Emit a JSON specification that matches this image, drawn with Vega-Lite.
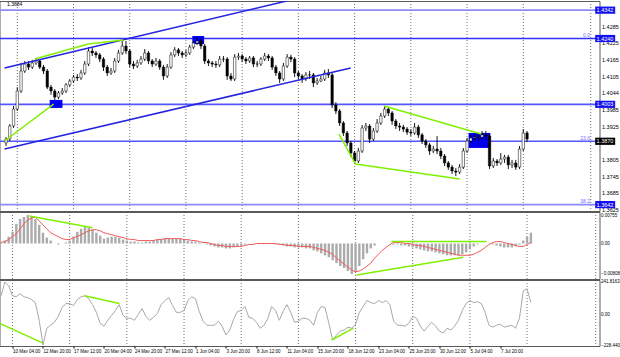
{
"$schema":"https://vega.github.io/schema/vega-lite/v6.json",
"padding":{"left":-2.5,"top":0,"right":0,"bottom":0},"spacing":1,"bounds":"flush","background":"white",
"config":{"view":{"stroke":"#5a5a5a","strokeWidth":1},"axis":{"labelFont":"Liberation Sans","grid":false,"domain":false,"ticks":false},"text":{"font":"Liberation Sans"}},
"datasets":{
"bars":[
{"t":-6,"o":1.3864,"h":1.3885,"l":1.3853,"c":1.3878,"m":0.00026,"s":0.00026,"k":139},
{"t":-4,"o":1.3878,"h":1.3932,"l":1.3871,"c":1.3925,"m":0.00078,"s":0.00052,"k":241.8},
{"t":-2,"o":1.3925,"h":1.3997,"l":1.3918,"c":1.3986,"m":0.00182,"s":0.00104,"k":213},
{"t":0,"o":1.3986,"h":1.4065,"l":1.3979,"c":1.4051,"m":0.00312,"s":0.00182,"k":139},
{"t":2,"o":1.4051,"h":1.4152,"l":1.4044,"c":1.4123,"m":0.0052,"s":0.0026,"k":132},
{"t":4,"o":1.4123,"h":1.4159,"l":1.4116,"c":1.4148,"m":0.0065,"s":0.0039,"k":154},
{"t":6,"o":1.4148,"h":1.4159,"l":1.4127,"c":1.4137,"m":0.00702,"s":0.0052,"k":132},
{"t":8,"o":1.4137,"h":1.4163,"l":1.4130,"c":1.4152,"m":0.00755,"s":0.00624,"k":125},
{"t":10,"o":1.4152,"h":1.4170,"l":1.4145,"c":1.4159,"m":0.00702,"s":0.00676,"k":110},
{"t":12,"o":1.4159,"h":1.4166,"l":1.4130,"c":1.4137,"m":0.0065,"s":0.00702,"k":88},
{"t":14,"o":1.4137,"h":1.4145,"l":1.4112,"c":1.4123,"m":0.00494,"s":0.00598,"k":-44},
{"t":16,"o":1.4123,"h":1.4130,"l":1.4058,"c":1.4065,"m":0.00286,"s":0.00494,"k":-228.4},
{"t":18,"o":1.4065,"h":1.4073,"l":1.4037,"c":1.4051,"m":0.00156,"s":0.0039,"k":-103},
{"t":20,"o":1.4051,"h":1.4058,"l":1.4019,"c":1.4029,"m":0.00078,"s":0.00286,"k":-81},
{"t":22,"o":1.4029,"h":1.4051,"l":1.4022,"c":1.4044,"m":0,"s":0.00234,"k":-59},
{"t":24,"o":1.4044,"h":1.4062,"l":1.4037,"c":1.4051,"m":-0.00026,"s":0.00182,"k":-15},
{"t":26,"o":1.4051,"h":1.4080,"l":1.4044,"c":1.4073,"m":0,"s":0.0013,"k":51},
{"t":28,"o":1.4073,"h":1.4094,"l":1.4065,"c":1.4087,"m":0.00026,"s":0.00104,"k":81},
{"t":30,"o":1.4087,"h":1.4109,"l":1.4080,"c":1.4101,"m":0.00078,"s":0.00104,"k":81},
{"t":32,"o":1.4101,"h":1.4112,"l":1.4087,"c":1.4098,"m":0.00182,"s":0.00156,"k":66},
{"t":34,"o":1.4098,"h":1.4127,"l":1.4091,"c":1.4116,"m":0.00312,"s":0.00182,"k":110},
{"t":36,"o":1.4116,"h":1.4159,"l":1.4109,"c":1.4148,"m":0.0039,"s":0.00234,"k":132},
{"t":38,"o":1.4148,"h":1.4209,"l":1.4141,"c":1.4195,"m":0.00442,"s":0.00286,"k":139},
{"t":40,"o":1.4195,"h":1.4206,"l":1.4177,"c":1.4188,"m":0.00416,"s":0.00338,"k":117},
{"t":42,"o":1.4188,"h":1.4195,"l":1.4170,"c":1.4181,"m":0.00364,"s":0.00364,"k":73},
{"t":44,"o":1.4181,"h":1.4188,"l":1.4155,"c":1.4166,"m":0.00286,"s":0.00364,"k":15},
{"t":46,"o":1.4166,"h":1.4173,"l":1.4123,"c":1.4137,"m":0.00208,"s":0.00338,"k":-66},
{"t":48,"o":1.4137,"h":1.4145,"l":1.4105,"c":1.4116,"m":0.0013,"s":0.00286,"k":-88},
{"t":50,"o":1.4116,"h":1.4134,"l":1.4109,"c":1.4123,"m":0.00156,"s":0.0026,"k":-44},
{"t":52,"o":1.4123,"h":1.4170,"l":1.4116,"c":1.4159,"m":0.00182,"s":0.00234,"k":-7},
{"t":54,"o":1.4159,"h":1.4199,"l":1.4152,"c":1.4188,"m":0.00182,"s":0.00208,"k":29},
{"t":56,"o":1.4188,"h":1.4231,"l":1.4181,"c":1.4213,"m":0.00156,"s":0.00182,"k":73},
{"t":58,"o":1.4213,"h":1.4231,"l":1.4184,"c":1.4195,"m":0.00104,"s":0.00156,"k":-7},
{"t":60,"o":1.4195,"h":1.4202,"l":1.4137,"c":1.4148,"m":0.00078,"s":0.0013,"k":-29},
{"t":62,"o":1.4148,"h":1.4159,"l":1.4130,"c":1.4141,"m":0.00052,"s":0.00104,"k":-29},
{"t":64,"o":1.4141,"h":1.4163,"l":1.4134,"c":1.4152,"m":0.00052,"s":0.00104,"k":-44},
{"t":66,"o":1.4152,"h":1.4177,"l":1.4145,"c":1.4166,"m":0.00026,"s":0.00078,"k":0},
{"t":68,"o":1.4166,"h":1.4202,"l":1.4159,"c":1.4188,"m":0.00026,"s":0.00078,"k":44},
{"t":70,"o":1.4188,"h":1.4195,"l":1.4148,"c":1.4159,"m":0.00052,"s":0.00078,"k":-15},
{"t":72,"o":1.4159,"h":1.4166,"l":1.4137,"c":1.4148,"m":0.00052,"s":0.00078,"k":-44},
{"t":74,"o":1.4148,"h":1.4170,"l":1.4141,"c":1.4159,"m":0.00078,"s":0.00078,"k":-22},
{"t":76,"o":1.4159,"h":1.4166,"l":1.4127,"c":1.4137,"m":0.00104,"s":0.00104,"k":7},
{"t":78,"o":1.4137,"h":1.4145,"l":1.4091,"c":1.4105,"m":0.00104,"s":0.00104,"k":73},
{"t":80,"o":1.4105,"h":1.4148,"l":1.4098,"c":1.4137,"m":0.0013,"s":0.0013,"k":103},
{"t":82,"o":1.4137,"h":1.4191,"l":1.4130,"c":1.4181,"m":0.0013,"s":0.0013,"k":125},
{"t":84,"o":1.4181,"h":1.4209,"l":1.4173,"c":1.4199,"m":0.0013,"s":0.0013,"k":66},
{"t":86,"o":1.4199,"h":1.4206,"l":1.4177,"c":1.4188,"m":0.0013,"s":0.0013,"k":15},
{"t":88,"o":1.4188,"h":1.4195,"l":1.4170,"c":1.4181,"m":0.0013,"s":0.0013,"k":15},
{"t":90,"o":1.4181,"h":1.4199,"l":1.4173,"c":1.4188,"m":0.00104,"s":0.00104,"k":29},
{"t":92,"o":1.4188,"h":1.4217,"l":1.4181,"c":1.4209,"m":0.00078,"s":0.00104,"k":103},
{"t":94,"o":1.4209,"h":1.4231,"l":1.4202,"c":1.4224,"m":0.00052,"s":0.00078,"k":132},
{"t":96,"o":1.4224,"h":1.4245,"l":1.4217,"c":1.4231,"m":0.00052,"s":0.00078,"k":117},
{"t":98,"o":1.4231,"h":1.4238,"l":1.4202,"c":1.4213,"m":0.00026,"s":0.00052,"k":22},
{"t":100,"o":1.4213,"h":1.4220,"l":1.4148,"c":1.4159,"m":0,"s":0.00026,"k":-51},
{"t":102,"o":1.4159,"h":1.4166,"l":1.4141,"c":1.4152,"m":-0.00026,"s":0.00026,"k":-81},
{"t":104,"o":1.4152,"h":1.4159,"l":1.4137,"c":1.4148,"m":-0.00052,"s":0,"k":-81},
{"t":106,"o":1.4148,"h":1.4159,"l":1.4134,"c":1.4145,"m":-0.00078,"s":-0.00026,"k":-81},
{"t":108,"o":1.4145,"h":1.4177,"l":1.4137,"c":1.4166,"m":-0.00104,"s":-0.00052,"k":-51},
{"t":110,"o":1.4166,"h":1.4177,"l":1.4155,"c":1.4166,"m":-0.00104,"s":-0.00052,"k":-88},
{"t":112,"o":1.4166,"h":1.4173,"l":1.4091,"c":1.4105,"m":-0.0013,"s":-0.00078,"k":-154},
{"t":114,"o":1.4105,"h":1.4116,"l":1.4087,"c":1.4094,"m":-0.0013,"s":-0.00078,"k":-117},
{"t":116,"o":1.4094,"h":1.4184,"l":1.4087,"c":1.4173,"m":-0.00104,"s":-0.00078,"k":-37},
{"t":118,"o":1.4173,"h":1.4188,"l":1.4163,"c":1.4177,"m":-0.00078,"s":-0.00078,"k":22},
{"t":120,"o":1.4177,"h":1.4184,"l":1.4155,"c":1.4166,"m":-0.00052,"s":-0.00078,"k":29},
{"t":122,"o":1.4166,"h":1.4173,"l":1.4148,"c":1.4159,"m":-0.00026,"s":-0.00052,"k":59},
{"t":124,"o":1.4159,"h":1.4177,"l":1.4152,"c":1.4170,"m":0,"s":-0.00026,"k":-22},
{"t":126,"o":1.4170,"h":1.4177,"l":1.4137,"c":1.4148,"m":0,"s":-0.00026,"k":-29},
{"t":128,"o":1.4148,"h":1.4159,"l":1.4137,"c":1.4148,"m":0,"s":0,"k":-59},
{"t":130,"o":1.4148,"h":1.4173,"l":1.4141,"c":1.4166,"m":0,"s":0,"k":-103},
{"t":132,"o":1.4166,"h":1.4188,"l":1.4159,"c":1.4177,"m":0,"s":0,"k":-81},
{"t":134,"o":1.4177,"h":1.4184,"l":1.4159,"c":1.4170,"m":0,"s":0,"k":-29},
{"t":136,"o":1.4170,"h":1.4177,"l":1.4127,"c":1.4137,"m":0,"s":0,"k":59},
{"t":138,"o":1.4137,"h":1.4145,"l":1.4105,"c":1.4116,"m":-0.00026,"s":0,"k":29},
{"t":140,"o":1.4116,"h":1.4123,"l":1.4080,"c":1.4094,"m":-0.00026,"s":-0.00026,"k":-44},
{"t":142,"o":1.4094,"h":1.4152,"l":1.4087,"c":1.4141,"m":-0.00052,"s":-0.00026,"k":22},
{"t":144,"o":1.4141,"h":1.4184,"l":1.4134,"c":1.4173,"m":-0.00078,"s":-0.00052,"k":73},
{"t":146,"o":1.4173,"h":1.4181,"l":1.4155,"c":1.4166,"m":-0.00078,"s":-0.00052,"k":15},
{"t":148,"o":1.4166,"h":1.4173,"l":1.4101,"c":1.4116,"m":-0.00104,"s":-0.00052,"k":-59},
{"t":150,"o":1.4116,"h":1.4123,"l":1.4094,"c":1.4105,"m":-0.00104,"s":-0.00078,"k":-51},
{"t":152,"o":1.4105,"h":1.4112,"l":1.4080,"c":1.4094,"m":-0.00104,"s":-0.00078,"k":-29},
{"t":154,"o":1.4094,"h":1.4119,"l":1.4087,"c":1.4109,"m":-0.0013,"s":-0.00078,"k":-29},
{"t":156,"o":1.4109,"h":1.4123,"l":1.4094,"c":1.4109,"m":-0.0013,"s":-0.00078,"k":-44},
{"t":158,"o":1.4109,"h":1.4116,"l":1.4065,"c":1.4080,"m":-0.00182,"s":-0.00104,"k":-81},
{"t":160,"o":1.4080,"h":1.4098,"l":1.4073,"c":1.4087,"m":-0.00208,"s":-0.0013,"k":15},
{"t":162,"o":1.4087,"h":1.4105,"l":1.4083,"c":1.4094,"m":-0.0026,"s":-0.00156,"k":59},
{"t":164,"o":1.4094,"h":1.4127,"l":1.4087,"c":1.4116,"m":-0.00312,"s":-0.00182,"k":51},
{"t":166,"o":1.4116,"h":1.4130,"l":1.4098,"c":1.4109,"m":-0.00364,"s":-0.00234,"k":-66},
{"t":168,"o":1.4109,"h":1.4116,"l":1.3990,"c":1.4001,"m":-0.00442,"s":-0.00286,"k":-191},
{"t":170,"o":1.4001,"h":1.4011,"l":1.3968,"c":1.3979,"m":-0.0052,"s":-0.0039,"k":-154},
{"t":172,"o":1.3979,"h":1.3986,"l":1.3925,"c":1.3936,"m":-0.00598,"s":-0.00468,"k":-125},
{"t":174,"o":1.3936,"h":1.3943,"l":1.3889,"c":1.3900,"m":-0.0065,"s":-0.00546,"k":-117},
{"t":176,"o":1.3900,"h":1.3907,"l":1.3853,"c":1.3864,"m":-0.00728,"s":-0.00624,"k":-95},
{"t":178,"o":1.3864,"h":1.3871,"l":1.3813,"c":1.3828,"m":-0.00808,"s":-0.00702,"k":-103},
{"t":180,"o":1.3828,"h":1.3835,"l":1.3788,"c":1.3799,"m":-0.00754,"s":-0.00754,"k":-73},
{"t":182,"o":1.3799,"h":1.3846,"l":1.3792,"c":1.3835,"m":-0.00598,"s":-0.00728,"k":15},
{"t":184,"o":1.3835,"h":1.3929,"l":1.3828,"c":1.3918,"m":-0.00416,"s":-0.00676,"k":59},
{"t":186,"o":1.3918,"h":1.3936,"l":1.3907,"c":1.3925,"m":-0.0026,"s":-0.00598,"k":103},
{"t":188,"o":1.3925,"h":1.3932,"l":1.3864,"c":1.3878,"m":-0.0013,"s":-0.0052,"k":88},
{"t":190,"o":1.3878,"h":1.3918,"l":1.3871,"c":1.3907,"m":-0.00052,"s":-0.0039,"k":81},
{"t":192,"o":1.3907,"h":1.3950,"l":1.3900,"c":1.3936,"m":0,"s":-0.00286,"k":103},
{"t":194,"o":1.3936,"h":1.3972,"l":1.3929,"c":1.3961,"m":0,"s":-0.00182,"k":88},
{"t":196,"o":1.3961,"h":1.3997,"l":1.3954,"c":1.3986,"m":0,"s":-0.00104,"k":103},
{"t":198,"o":1.3986,"h":1.3993,"l":1.3961,"c":1.3972,"m":0,"s":-0.00026,"k":73},
{"t":200,"o":1.3972,"h":1.3979,"l":1.3929,"c":1.3943,"m":-0.00026,"s":0.00026,"k":-51},
{"t":202,"o":1.3943,"h":1.3950,"l":1.3914,"c":1.3925,"m":-0.00026,"s":0.00026,"k":-81},
{"t":204,"o":1.3925,"h":1.3936,"l":1.3907,"c":1.3921,"m":-0.00052,"s":0.00026,"k":-81},
{"t":206,"o":1.3921,"h":1.3929,"l":1.3903,"c":1.3914,"m":-0.00052,"s":0,"k":-88},
{"t":208,"o":1.3914,"h":1.3921,"l":1.3893,"c":1.3903,"m":-0.00078,"s":0,"k":-66},
{"t":210,"o":1.3903,"h":1.3914,"l":1.3889,"c":1.3900,"m":-0.00104,"s":-0.00026,"k":-15},
{"t":212,"o":1.3900,"h":1.3936,"l":1.3893,"c":1.3921,"m":-0.0013,"s":-0.00052,"k":-29},
{"t":214,"o":1.3921,"h":1.3929,"l":1.3882,"c":1.3893,"m":-0.00156,"s":-0.00052,"k":-88},
{"t":216,"o":1.3893,"h":1.3900,"l":1.3860,"c":1.3871,"m":-0.00182,"s":-0.00078,"k":-125},
{"t":218,"o":1.3871,"h":1.3878,"l":1.3846,"c":1.3857,"m":-0.00208,"s":-0.00104,"k":-88},
{"t":220,"o":1.3857,"h":1.3864,"l":1.3821,"c":1.3835,"m":-0.00208,"s":-0.0013,"k":-59},
{"t":222,"o":1.3835,"h":1.3853,"l":1.3828,"c":1.3842,"m":-0.00234,"s":-0.00156,"k":-88},
{"t":224,"o":1.3842,"h":1.3889,"l":1.3824,"c":1.3835,"m":-0.0026,"s":-0.00182,"k":-125},
{"t":226,"o":1.3835,"h":1.3846,"l":1.3806,"c":1.3817,"m":-0.00286,"s":-0.00208,"k":-139},
{"t":228,"o":1.3817,"h":1.3824,"l":1.3781,"c":1.3792,"m":-0.00312,"s":-0.00234,"k":-103},
{"t":230,"o":1.3792,"h":1.3799,"l":1.3767,"c":1.3777,"m":-0.00312,"s":-0.0026,"k":-117},
{"t":232,"o":1.3777,"h":1.3785,"l":1.3752,"c":1.3763,"m":-0.00312,"s":-0.00286,"k":-88},
{"t":234,"o":1.3763,"h":1.3774,"l":1.3745,"c":1.3759,"m":-0.00312,"s":-0.00312,"k":-44},
{"t":236,"o":1.3759,"h":1.3788,"l":1.3752,"c":1.3777,"m":-0.00286,"s":-0.00312,"k":29},
{"t":238,"o":1.3777,"h":1.3846,"l":1.3770,"c":1.3835,"m":-0.00234,"s":-0.00312,"k":81},
{"t":240,"o":1.3835,"h":1.3882,"l":1.3828,"c":1.3871,"m":-0.00156,"s":-0.00312,"k":103},
{"t":242,"o":1.3871,"h":1.3893,"l":1.3864,"c":1.3882,"m":-0.00078,"s":-0.00286,"k":88},
{"t":244,"o":1.3882,"h":1.3896,"l":1.3871,"c":1.3885,"m":-0.00026,"s":-0.00234,"k":95},
{"t":246,"o":1.3885,"h":1.3900,"l":1.3871,"c":1.3885,"m":0,"s":-0.00182,"k":81},
{"t":248,"o":1.3885,"h":1.3907,"l":1.3875,"c":1.3893,"m":0,"s":-0.00104,"k":15},
{"t":250,"o":1.3893,"h":1.3907,"l":1.3875,"c":1.3889,"m":0,"s":-0.00026,"k":-81},
{"t":252,"o":1.3889,"h":1.3896,"l":1.3770,"c":1.3781,"m":-0.00026,"s":0.00026,"k":-95},
{"t":254,"o":1.3781,"h":1.3810,"l":1.3774,"c":1.3799,"m":-0.00052,"s":0.00052,"k":-81},
{"t":256,"o":1.3799,"h":1.3806,"l":1.3781,"c":1.3792,"m":-0.00078,"s":0.00052,"k":-73},
{"t":258,"o":1.3792,"h":1.3828,"l":1.3785,"c":1.3806,"m":-0.00104,"s":0.00026,"k":-95},
{"t":260,"o":1.3806,"h":1.3821,"l":1.3792,"c":1.3813,"m":-0.00104,"s":0,"k":-88},
{"t":262,"o":1.3813,"h":1.3821,"l":1.3770,"c":1.3785,"m":-0.00104,"s":-0.00026,"k":-81},
{"t":264,"o":1.3785,"h":1.3803,"l":1.3774,"c":1.3792,"m":-0.00078,"s":-0.00052,"k":-103},
{"t":266,"o":1.3792,"h":1.3803,"l":1.3767,"c":1.3777,"m":-0.00026,"s":-0.00078,"k":-29},
{"t":268,"o":1.3777,"h":1.3853,"l":1.3770,"c":1.3842,"m":0.00078,"s":-0.00078,"k":176},
{"t":270,"o":1.3842,"h":1.3914,"l":1.3835,"c":1.3900,"m":0.00182,"s":-0.00026,"k":191},
{"t":272,"o":1.3900,"h":1.3907,"l":1.3867,"c":1.3878,"m":0.00286,"s":0.00026,"k":88}
],
"grid":[{"t":0},{"t":30},{"t":60},{"t":90},{"t":120},{"t":150},{"t":180},{"t":210},{"t":240},{"t":270},{"t":306}],
"lv":[{"p":1.4342,"k":"lt"},{"p":1.4240,"k":"dk"},{"p":1.4003,"k":"md"},{"p":1.3870,"k":"md"},{"p":1.3642,"k":"lt"}],
"fib":[{"p":1.4240,"lab":"0.0"},{"p":1.3870,"lab":"23.6"},{"p":1.3642,"lab":"38.2"}],
"box":[{"p":1.4342,"k":"lvl"},{"p":1.4240,"k":"lvl"},{"p":1.4003,"k":"lvl"},{"p":1.3870,"k":"cur"},{"p":1.3642,"k":"lvl"}],
"rc":[{"t":17.3,"t2":24.1,"p":1.4019,"p2":1.3990},{"t":93.4,"t2":99.7,"p":1.4249,"p2":1.4220},{"t":240.8,"t2":252.4,"p":1.3900,"p2":1.3846}],
"ln":[
{"g":"u","k":"ch","t":-6.82,"p":1.4134},{"g":"u","k":"ch","t":150,"p":1.4385},
{"g":"d","k":"ch","t":-6.82,"p":1.3842},{"g":"d","k":"ch","t":177.9,"p":1.4134},
{"g":"g1","k":"gr","t":-6.82,"p":1.3871},{"g":"g1","k":"gr","t":19.4,"p":1.4004},
{"g":"g2","k":"gr","t":9.4,"p":1.4166},{"g":"g2","k":"gr","t":37.8,"p":1.4220},{"g":"g2","k":"gr","t":56.7,"p":1.4235},
{"g":"g3","k":"gr","t":171.6,"p":1.3896},{"g":"g3","k":"gr","t":180.5,"p":1.3788},{"g":"g3","k":"gr","t":236.1,"p":1.3734},
{"g":"g4","k":"gr","t":195.7,"p":1.3997},{"g":"g4","k":"gr","t":247.6,"p":1.3896}
],
"mg":[{"g":"a","t":8.9,"m":0.00728},{"g":"a","t":42,"m":0.00416},{"g":"b","t":198.8,"m":0.00052},{"g":"b","t":248.7,"m":0.00052},{"g":"c","t":180.5,"m":-0.00832},{"g":"c","t":236.6,"m":-0.00364}],
"cg":[{"g":"a","t":-6.82,"k":-66},{"g":"a","t":15.7,"k":-213},{"g":"b","t":37.8,"k":139},{"g":"b","t":56.1,"k":81},{"g":"c","t":167.4,"k":-191},{"g":"c","t":178.9,"k":-103}],
"tl":[{"lab":"1.3884"}]
},
"vconcat":[
{"width":600,"height":210,
"resolve":{"scale":{"color":"independent"},"axis":{"x":"independent","y":"independent"}},
"layer":[
{"data":{"name":"grid"},"mark":{"type":"rule","color":"#4d4d4d","strokeDash":[1,2],"strokeWidth":0.8},
 "encoding":{"x":{"field":"t","type":"quantitative","scale":{"domain":[-6.82,308],"nice":false,"zero":false},"axis":null}}},
{"data":{"name":"lv"},"mark":{"type":"rule","strokeWidth":1.6},
 "encoding":{"y":{"field":"p","type":"quantitative","title":null,"scale":{"domain":[1.3619,1.4375],"nice":false,"zero":false},
   "axis":{"orient":"right","values":[1.4285,1.4225,1.4165,1.4105,1.4044,1.3985,1.3925,1.3805,1.3745,1.3685,1.3625],"format":".4f","labelFontSize":5.5,"labelColor":"#000","labelPadding":2,"labelOverlap":false,"labelFlush":false,"title":null}},
  "color":{"field":"k","type":"nominal","scale":{"domain":["lt","dk","md"],"range":["#8c8cff","#2f2fff","#5555ff"]},"legend":null}}},
{"data":{"name":"rc"},"mark":{"type":"rect","color":"#0000ee"},
 "encoding":{"x":{"field":"t","type":"quantitative","scale":{"domain":[-6.82,308],"nice":false,"zero":false},"axis":null},"x2":{"field":"t2"},
  "y":{"field":"p","type":"quantitative","scale":{"domain":[1.3619,1.4375],"nice":false,"zero":false},"axis":null},"y2":{"field":"p2"}}},
{"data":{"name":"bars"},"mark":{"type":"rule","color":"#000","strokeWidth":0.9},
 "encoding":{"x":{"field":"t","type":"quantitative","scale":{"domain":[-6.82,308],"nice":false,"zero":false},"axis":null},
  "y":{"field":"l","type":"quantitative","scale":{"domain":[1.3619,1.4375],"nice":false,"zero":false},"axis":null},"y2":{"field":"h"}}},
{"data":{"name":"bars"},"mark":{"type":"bar","width":2.4,"stroke":"#000","strokeWidth":0.5},
 "encoding":{"x":{"field":"t","type":"quantitative","scale":{"domain":[-6.82,308],"nice":false,"zero":false},"axis":null},
  "y":{"field":"o","type":"quantitative","scale":{"domain":[1.3619,1.4375],"nice":false,"zero":false},"axis":null},"y2":{"field":"c"},
  "fill":{"condition":{"test":"datum.c < datum.o","value":"#000"},"value":"#fff"}}},
{"data":{"name":"ln"},"mark":{"type":"line","strokeWidth":1.5,"clip":true},
 "encoding":{"x":{"field":"t","type":"quantitative","scale":{"domain":[-6.82,308],"nice":false,"zero":false},"axis":null},
  "y":{"field":"p","type":"quantitative","scale":{"domain":[1.3619,1.4375],"nice":false,"zero":false},"axis":null},
  "detail":{"field":"g"},
  "color":{"field":"k","type":"nominal","scale":{"domain":["ch","gr"],"range":["#2424e0","#80f000"]},"legend":null}}},
{"data":{"name":"fib"},"mark":{"type":"text","align":"right","baseline":"bottom","fontSize":5,"color":"#6f6fff","dy":-0.5},
 "encoding":{"x":{"datum":305.6,"type":"quantitative","scale":{"domain":[-6.82,308],"nice":false,"zero":false},"axis":null},
  "y":{"field":"p","type":"quantitative","scale":{"domain":[1.3619,1.4375],"nice":false,"zero":false},"axis":null},
  "text":{"field":"lab"}}},
{"data":{"name":"box"},"mark":{"type":"point","shape":"M-1,-0.36L1,-0.36L1,0.36L-1,0.36Z","filled":true,"size":400,"opacity":1,"clip":false},
 "encoding":{"x":{"datum":313.7,"type":"quantitative","scale":{"domain":[-6.82,308],"nice":false,"zero":false},"axis":null},
  "y":{"field":"p","type":"quantitative","scale":{"domain":[1.3619,1.4375],"nice":false,"zero":false},"axis":null},
  "color":{"field":"k","type":"nominal","scale":{"domain":["lvl","cur"],"range":["#1212f0","#000000"]},"legend":null}}},
{"data":{"name":"box"},"mark":{"type":"text","align":"left","baseline":"middle","fontSize":5.5,"color":"#fff","clip":false},
 "encoding":{"x":{"datum":309.1,"type":"quantitative","scale":{"domain":[-6.82,308],"nice":false,"zero":false},"axis":null},
  "y":{"field":"p","type":"quantitative","scale":{"domain":[1.3619,1.4375],"nice":false,"zero":false},"axis":null},
  "text":{"field":"p","type":"quantitative","format":".4f"}}},
{"data":{"name":"tl"},"mark":{"type":"text","align":"left","baseline":"middle","fontSize":5,"color":"#000"},
 "encoding":{"x":{"datum":-5.5,"type":"quantitative","scale":{"domain":[-6.82,308],"nice":false,"zero":false},"axis":null},
  "y":{"datum":1.4364,"type":"quantitative","scale":{"domain":[1.3619,1.4375],"nice":false,"zero":false},"axis":null},
  "text":{"field":"lab"}}}
]},
{"width":600,"height":67,
"resolve":{"axis":{"x":"independent","y":"independent"}},
"layer":[
{"data":{"name":"grid"},"mark":{"type":"rule","color":"#4d4d4d","strokeDash":[1,2],"strokeWidth":0.8},
 "encoding":{"x":{"field":"t","type":"quantitative","scale":{"domain":[-6.82,308],"nice":false,"zero":false},"axis":null}}},
{"data":{"name":"bars"},"mark":{"type":"rule","color":"#ababab","strokeWidth":2.4},
 "encoding":{"x":{"field":"t","type":"quantitative","scale":{"domain":[-6.82,308],"nice":false,"zero":false},"axis":null},
  "y":{"field":"m","type":"quantitative","title":null,"scale":{"domain":[-0.00941,0.00835],"nice":false,"zero":false},
   "axis":{"orient":"right","values":[0.00755,0,-0.00808],"labelExpr":"datum.value == 0 ? '0.00' : format(datum.value, '.5f')","labelFontSize":4.5,"labelColor":"#000","labelPadding":1,"labelOverlap":false,"labelFlush":false,"title":null}},
  "y2":{"datum":0}}},
{"data":{"name":"bars"},"mark":{"type":"line","color":"#f25a5a","strokeWidth":1},
 "encoding":{"x":{"field":"t","type":"quantitative","scale":{"domain":[-6.82,308],"nice":false,"zero":false},"axis":null},
  "y":{"field":"s","type":"quantitative","scale":{"domain":[-0.00941,0.00835],"nice":false,"zero":false},"axis":null}}},
{"data":{"name":"mg"},"mark":{"type":"line","color":"#80f000","strokeWidth":1.5,"clip":true},
 "encoding":{"x":{"field":"t","type":"quantitative","scale":{"domain":[-6.82,308],"nice":false,"zero":false},"axis":null},
  "y":{"field":"m","type":"quantitative","scale":{"domain":[-0.00941,0.00835],"nice":false,"zero":false},"axis":null},
  "detail":{"field":"g"}}}
]},
{"width":600,"height":66,
"resolve":{"axis":{"x":"independent","y":"independent"}},
"layer":[
{"data":{"name":"grid"},"mark":{"type":"rule","color":"#4d4d4d","strokeDash":[1,2],"strokeWidth":0.8},
 "encoding":{"x":{"field":"t","type":"quantitative","scale":{"domain":[-6.82,308],"nice":false,"zero":false},"axis":null}}},
{"data":{"name":"bars"},"mark":{"type":"line","color":"#a8a8a8","strokeWidth":1,"clip":true},
 "encoding":{"x":{"field":"t","type":"quantitative","title":null,"scale":{"domain":[-6.82,308],"nice":false,"zero":false},
   "axis":{"orient":"bottom","values":[0,16,32,48,64,80,96,112,128,144,160,176,192,208,224,240,256],
    "labelExpr":"['10 May 04:00','12 May 20:00','17 May 12:00','20 May 04:00','24 May 20:00','27 May 12:00','1 Jun 04:00','3 Jun 20:00','8 Jun 12:00','11 Jun 04:00','15 Jun 20:00','18 Jun 12:00','23 Jun 04:00','25 Jun 20:00','30 Jun 12:00','5 Jul 04:00','7 Jul 20:00'][datum.value/16]",
    "labelFontSize":4.5,"labelAlign":"left","labelPadding":0,"ticks":true,"tickSize":2,"tickColor":"#000","labelColor":"#000","labelFlush":false,"labelOverlap":false,"domain":false,"title":null}},
  "y":{"field":"k","type":"quantitative","title":null,"scale":{"domain":[-235.9,256.7],"nice":false,"zero":false},
   "axis":{"orient":"right","values":[241.8163,0,-228.4406],"labelExpr":"datum.value == 0 ? '0.00' : format(datum.value, '.4f')","labelFontSize":4.5,"labelColor":"#000","labelPadding":1,"labelOverlap":false,"labelFlush":false,"title":null}}}},
{"data":{"name":"cg"},"mark":{"type":"line","color":"#80f000","strokeWidth":1.5,"clip":true},
 "encoding":{"x":{"field":"t","type":"quantitative","scale":{"domain":[-6.82,308],"nice":false,"zero":false},"axis":null},
  "y":{"field":"k","type":"quantitative","scale":{"domain":[-235.9,256.7],"nice":false,"zero":false},"axis":null},
  "detail":{"field":"g"}}}
]}
]
}
